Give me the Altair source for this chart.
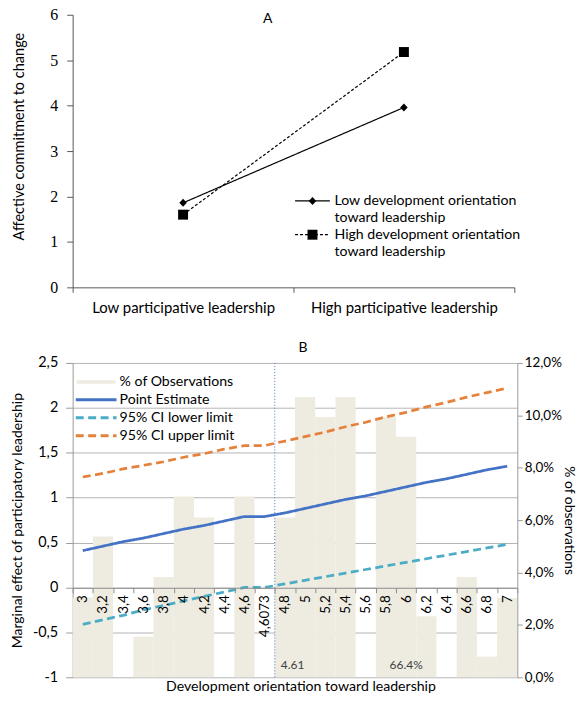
import altair as alt
import pandas as pd

FONT = "Lato"
SERIF = "Liberation Serif"

# ---------------- Panel A data ----------------
a_title = "A"
a_categories = ["Low participative leadership", "High participative leadership"]
a_series = ["Low development orientation toward leadership",
            "High development orientation toward leadership"]
a_values_low_dev = [1.86, 3.96]
a_values_high_dev = [1.60, 5.18]
a_y_ticks = [0, 1, 2, 3, 4, 5, 6]
a_y_title = "Affective commitment to change"

# ---------------- Panel B data ----------------
b_title = "B"
b_categories = ["3", "3,2", "3,4", "3,6", "3,8", "4", "4,2", "4,4", "4,6", "4,6073",
                "4,8", "5", "5,2", "5,4", "5,6", "5,8", "6", "6,2", "6,4", "6,6", "6,8", "7"]
b_obs_pct = [3.05, 5.37, 0, 1.55, 3.83, 6.9, 6.1, 0, 6.9, 0,
             6.1, 10.7, 9.94, 10.7, 0, 9.94, 9.18, 2.33, 0, 3.83, 0.79, 3.03]
b_point = [0.41, 0.46, 0.51, 0.55, 0.60, 0.65, 0.69, 0.74, 0.79, 0.79,
           0.83, 0.88, 0.93, 0.98, 1.02, 1.07, 1.12, 1.17, 1.21, 1.26, 1.31, 1.35]
b_lower = [-0.41, -0.36, -0.31, -0.25, -0.20, -0.15, -0.10, -0.05, 0.00, 0.00,
           0.04, 0.08, 0.12, 0.16, 0.20, 0.24, 0.28, 0.32, 0.36, 0.40, 0.44, 0.48]
b_upper = [1.23, 1.27, 1.32, 1.36, 1.40, 1.45, 1.49, 1.54, 1.58, 1.58,
           1.63, 1.68, 1.73, 1.79, 1.84, 1.90, 1.95, 2.01, 2.06, 2.12, 2.17, 2.22]
b_series = ["Point Estimate", "95% CI lower limit", "95% CI upper limit"]
b_bar_label = "% of Observations"
b_left_ticks = [-1, -0.5, 0, 0.5, 1, 1.5, 2, 2.5]
b_right_ticks = [0, 2, 4, 6, 8, 10, 12]
b_left_title = "Marginal effect of participatory leadership"
b_right_title = "% of observations"
b_x_title = "Development orientation toward leadership"
b_threshold_cat = "4,6073"
b_threshold_note = "4.61"
b_share_note = "66.4%"
b_share_note_cat = "6"
b_note_value = -0.86

TXT = 14.2

# ---------------- Panel A ----------------
MK = "m: "
rowsA = []
for s, vals in zip(a_series, [a_values_low_dev, a_values_high_dev]):
    for c, v in zip(a_categories, vals):
        rowsA.append({"cat": c, "series": s, "marker": MK + s, "value": v})
dfA = pd.DataFrame(rowsA)

CONT = " (cont.)"
dash_domain = [a_series[0], a_series[0] + CONT, a_series[1], a_series[1] + CONT]
dash_range = [[1, 0], [0, 1000], [3, 2], [0, 1000]]
marker_domain = [MK + d for d in dash_domain]
DIAMOND = "M0,-0.8L0.75,0L0,0.8L-0.75,0Z"
SQUARE = "M-1,-1H1V1H-1Z"
NONE = "M0,0"
marker_range = [DIAMOND, NONE, SQUARE, NONE]
LBL = "replace(datum.label, '" + MK + "', '')"
label_expr_A = ("indexof(" + LBL + ", '" + CONT + "') > 0 ? 'toward leadership' : "
                "replace(" + LBL + ", ' toward leadership', '')")

AX_A = "#595959"
xA = alt.X("cat:N", sort=a_categories,
           scale=alt.Scale(type="band", paddingInner=0, paddingOuter=0),
           axis=alt.Axis(title=None, labelAngle=0, tickBand="extent", domainColor=AX_A,
                         tickColor=AX_A, tickSize=5, labelPadding=8, labelFontSize=15,
                         labelLimit=400))
yA = alt.Y("value:Q", scale=alt.Scale(domain=[0, 6], nice=False),
           axis=alt.Axis(values=a_y_ticks, grid=False, title=a_y_title, labelFont=SERIF,
                         labelFontSize=16, labelPadding=9, tickSize=6, domainColor=AX_A,
                         tickColor=AX_A, titleFontSize=14.6, titleFontWeight="normal",
                         titlePadding=23.5, titleY=122))

legA_common = dict(title=None, orient="none", direction="vertical", legendX=234, legendY=180,
                   symbolSize=100, labelFontSize=TXT, labelOffset=15, rowPadding=2,
                   labelLimit=300, labelExpr=label_expr_A)

baseA = alt.Chart(dfA)
linesA = baseA.mark_line(color="black", strokeWidth=1.2).encode(
    x=xA, y=yA,
    strokeDash=alt.StrokeDash("series:N",
                              scale=alt.Scale(domain=dash_domain, range=dash_range),
                              legend=alt.Legend(symbolType="M-3.5,0H3.5", symbolStrokeColor="black",
                                                symbolStrokeWidth=1.2, **legA_common)))
pointsA = baseA.mark_point(filled=True, color="black", size=100, opacity=1).encode(
    x=xA, y=yA,
    shape=alt.Shape("marker:N", scale=alt.Scale(domain=marker_domain, range=marker_range),
                    legend=alt.Legend(symbolFillColor="black", symbolStrokeWidth=0,
                                      symbolOpacity=1, labelOpacity=0, **legA_common)))

chartA = alt.layer(linesA, pointsA).properties(
    width=444, height=274,
    title=alt.TitleParams(a_title, fontSize=14, fontWeight="normal", offset=-19, dx=-26,
                          anchor="middle"))

# ---------------- Panel B ----------------
dfBars = pd.DataFrame({"cat": b_categories, "obs": b_obs_pct, "obs_label": b_bar_label})
rowsL = []
for s, vals in zip(b_series, [b_point, b_lower, b_upper]):
    for i, (c, v) in enumerate(zip(b_categories, vals)):
        rowsL.append({"cat": c, "series": s, "value": v, "idx": i})
dfLines = pd.DataFrame(rowsL)
dfRule = pd.DataFrame({"cat": [b_threshold_cat], "note": [b_threshold_note], "value": [b_note_value]})
dfShare = pd.DataFrame({"cat": [b_share_note_cat], "note": [b_share_note], "value": [b_note_value]})

GRID = "#B4B4B4"
AXB = "#9A9A9A"
xScaleB = alt.Scale(type="band", paddingInner=0, paddingOuter=0)
xAxisB = alt.Axis(title=b_x_title, orient="bottom", offset=-90, labelAngle=-90, tickBand="extent",
                  domainColor="#8C8C8C", tickColor="#8C8C8C", tickSize=5, labelPadding=2,
                  labelFontSize=13.5, titleFontSize=TXT, titleFontWeight="normal",
                  titleY=99, titleX=229, titleBaseline="middle", zindex=1)
xB = alt.X("cat:N", sort=b_categories, scale=xScaleB, axis=xAxisB)
xBend = alt.X("cat:N", sort=b_categories, scale=xScaleB, axis=xAxisB, bandPosition=1)

yLeft = alt.Y("value:Q", scale=alt.Scale(domain=[-1, 2.5], nice=False),
              axis=alt.Axis(values=b_left_ticks, grid=True, gridColor=GRID, domainColor=AXB,
                            tickColor=AXB, tickSize=7, labelPadding=8, labelFontSize=14.5,
                            labelExpr="replace(toString(datum.value), '.', ',')",
                            title=b_left_title, titleFontSize=14, titleFontWeight="normal",
                            titlePadding=7.5, zindex=0))
yRight = alt.Y("obs:Q", scale=alt.Scale(domain=[0, 12], nice=False),
               axis=alt.Axis(orient="right", values=b_right_ticks, grid=False, domainColor=AXB,
                             tickColor=AXB, tickSize=5, labelPadding=2, labelFontSize=13.5,
                             labelExpr="replace(format(datum.value, '.1f'), '.', ',') + '%'",
                             title=b_right_title, titleFontSize=14, titleFontWeight="normal",
                             titlePadding=0, zindex=1))

bars = alt.Chart(dfBars).mark_bar(strokeWidth=0).encode(
    x=xB, y=yRight,
    fill=alt.Fill("obs_label:N", scale=alt.Scale(domain=[b_bar_label], range=["#EEECE1"]),
                  legend=alt.Legend(title=None, orient="none", legendX=16.5, legendY=12,
                                    symbolType="M-3.9,-0.36H3.9V0.36H-3.9Z", symbolSize=100,
                                    symbolStrokeWidth=0, labelFontSize=TXT, labelOffset=16.5,
                                    labelLimit=300)))

legB = alt.Legend(title=None, orient="none", direction="vertical", legendX=16.5, legendY=30,
                  symbolType="M-4.1,0H4.1", symbolSize=100, symbolStrokeWidth=3,
                  labelFontSize=TXT, labelOffset=16.5, rowPadding=3, labelLimit=300)
lines = alt.Chart(dfLines).mark_line(strokeWidth=2.75).encode(
    x=xB, y=yLeft,
    color=alt.Color("series:N", scale=alt.Scale(domain=b_series,
                                                range=["#4472C4", "#4BACC6", "#E5813A"]),
                    legend=legB),
    strokeDash=alt.StrokeDash("series:N", scale=alt.Scale(domain=b_series,
                                                          range=[[1, 0], [8, 4.5], [8, 4.5]]),
                              legend=legB),
    order=alt.Order("idx:Q"))

rule = alt.Chart(dfRule).mark_rule(color="#4472C4", strokeDash=[1, 2], strokeWidth=1).encode(x=xBend)
note1 = alt.Chart(dfRule).mark_text(align="left", dx=6, baseline="middle", fontSize=12,
                                    color="#404040").encode(x=xBend, y=yLeft, text="note:N")
note2 = alt.Chart(dfShare).mark_text(align="center", baseline="middle", fontSize=12,
                                     color="#404040").encode(x=xB, y=yLeft, text="note:N")

inner = alt.layer(lines, rule, note1, note2)
chartB = alt.layer(bars, inner).resolve_scale(y="independent").properties(
    width=447, height=316,
    title=alt.TitleParams(b_title, fontSize=14, fontWeight="normal", offset=0, dx=8,
                          anchor="middle"))

ind = dict(color="independent", strokeDash="independent", shape="independent", fill="independent")
chart = alt.vconcat(chartA, chartB, spacing=26).resolve_scale(**ind).resolve_legend(**ind).properties(
    padding={"left": 3, "top": -3, "right": 0, "bottom": 0}
).configure(font=FONT).configure_view(stroke=None).configure_axis(
    labelColor="black", titleColor="black", labelFont=FONT, titleFont=FONT
).configure_legend(labelFont=FONT, labelColor="black").configure_title(font=FONT, color="black")

chart.save("out.html", embed_options={"renderer": "svg", "actions": False})
